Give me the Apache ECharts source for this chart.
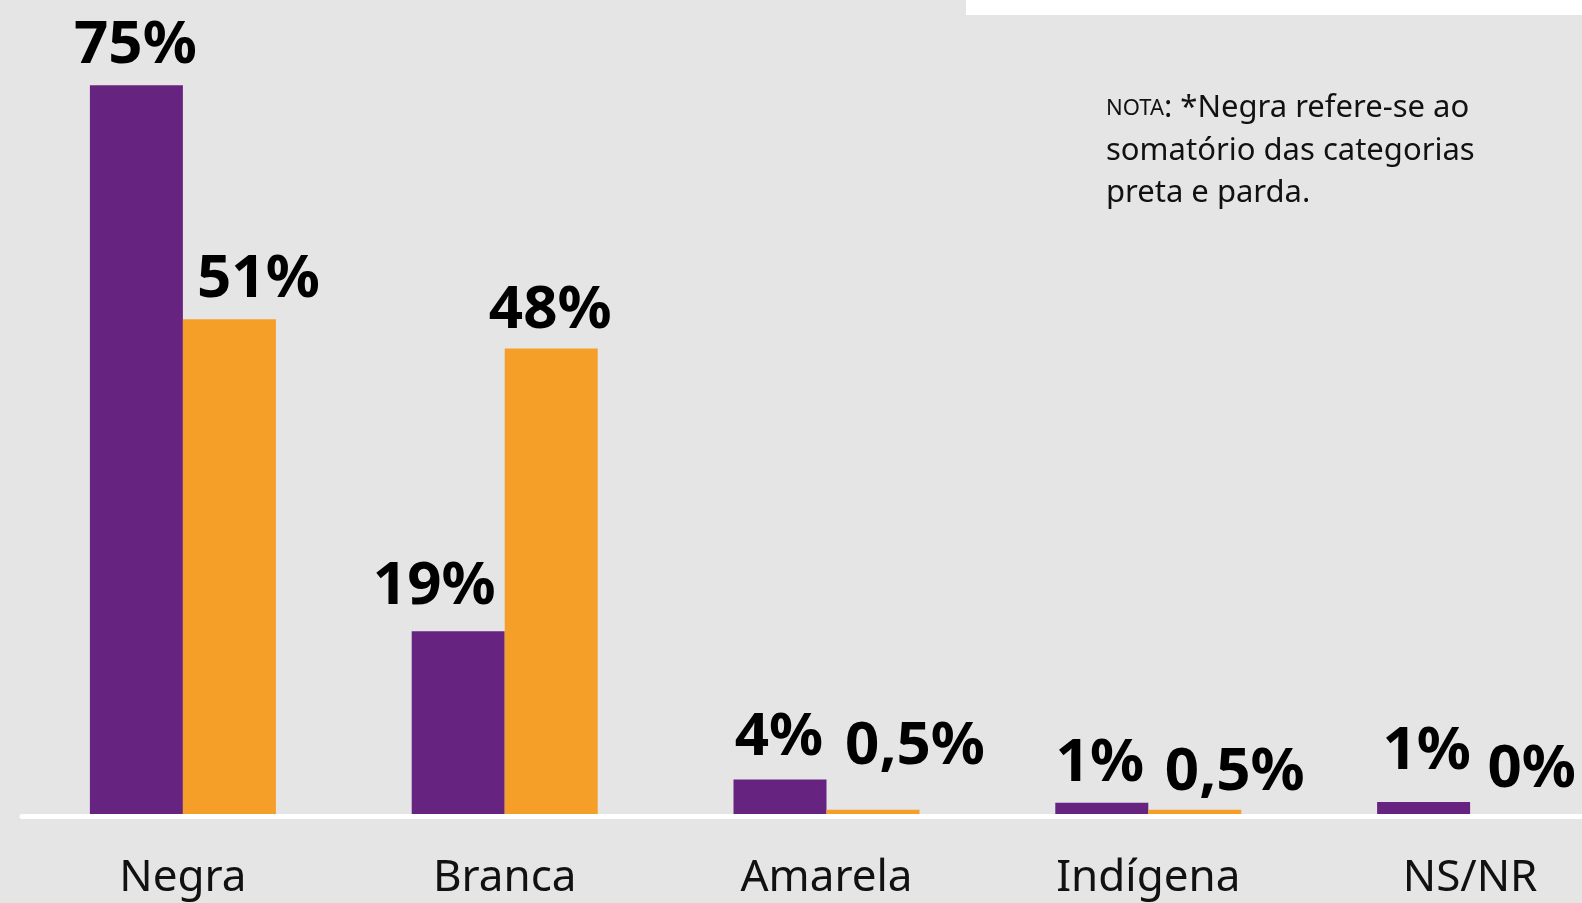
<!DOCTYPE html>
<html>
<head>
<meta charset="utf-8">
<script src="https://cdn.jsdelivr.net/npm/echarts@6/dist/echarts.min.js"></script>
<style>
  html, body { margin: 0; padding: 0; background: #e5e5e5; overflow: hidden; }
  /* the last group runs past the right edge in the original, so the canvas is wider than the window */
  #chart { width: 1631px; height: 903px; }
</style>
</head>
<body>
<div id="chart"></div>
<script>
// categories and values
var categories = ['Negra', 'Branca', 'Amarela', 'Indígena', 'NS/NR'];
var purpleValues = [75, 19, 3.8, 1.4, 1.5];
var orangeValues = [51, 48, 0.7, 0.7, 0];
var purpleLabels = ['75%', '19%', '4%', '1%', '1%'];
var orangeLabels = ['51%', '48%', '0,5%', '0,5%', '0%'];

// hand placed label nudges (the original has them off-centre)
var purpleNudge = [[-1, 0], [-24, -5], [-1, -3], [-2, 0], [3, -11]];
var orangeNudge = [[29, 0], [-1, 1], [42, -24], [40, 2], [15, -8]];

function withNudge(values, nudge) {
    return values.map(function (v, i) {
        return { value: v, label: { offset: nudge[i] } };
    });
}

var chart = echarts.init(document.getElementById('chart'));

var valueLabel = {
    show: true,
    position: 'top',
    distance: 9,
    color: '#000',
    fontFamily: 'Noto Sans',
    fontWeight: 'bold',
    fontSize: 60
};

var option = {
    backgroundColor: '#e5e5e5',
    animation: false,
    title: {
        left: 1101,
        top: 82,
        text: '{sc|NOTA}: *Negra refere-se ao\nsomatório das categorias\npreta e parda.',
        textStyle: {
            fontFamily: 'Noto Sans',
            fontWeight: 'normal',
            fontSize: 31,
            lineHeight: 42.5,
            color: '#111',
            rich: {
                sc: { fontFamily: 'Noto Sans', fontSize: 22, color: '#111', lineHeight: 42.5 }
            }
        }
    },
    graphic: [
        { type: 'rect', left: 966, top: 0, shape: { width: 700, height: 15 }, style: { fill: '#ffffff' } }
    ],
    grid: { left: 22, right: 0, top: 36.5, bottom: 86.5 },
    xAxis: {
        type: 'category',
        data: categories,
        z: 5,
        axisLine: { lineStyle: { color: '#ffffff', width: 5 } },
        axisTick: { show: false },
        axisLabel: {
            margin: 40,
            color: '#111',
            fontFamily: 'Noto Sans',
            fontSize: 44
        }
    },
    yAxis: {
        type: 'value',
        min: 0,
        max: 80,
        show: false,
        splitLine: { show: false }
    },
    series: [
        {
            name: 'roxo',
            type: 'bar',
            barWidth: 93,
            barGap: '0%',
            itemStyle: { color: '#662380' },
            label: Object.assign({}, valueLabel, {
                formatter: function (p) { return purpleLabels[p.dataIndex]; }
            }),
            data: withNudge(purpleValues, purpleNudge)
        },
        {
            name: 'laranja',
            type: 'bar',
            barWidth: 93,
            barGap: '0%',
            itemStyle: { color: '#f59f28' },
            label: Object.assign({}, valueLabel, {
                formatter: function (p) { return orangeLabels[p.dataIndex]; }
            }),
            data: withNudge(orangeValues, orangeNudge)
        }
    ]
};

chart.setOption(option);
</script>
</body>
</html>
